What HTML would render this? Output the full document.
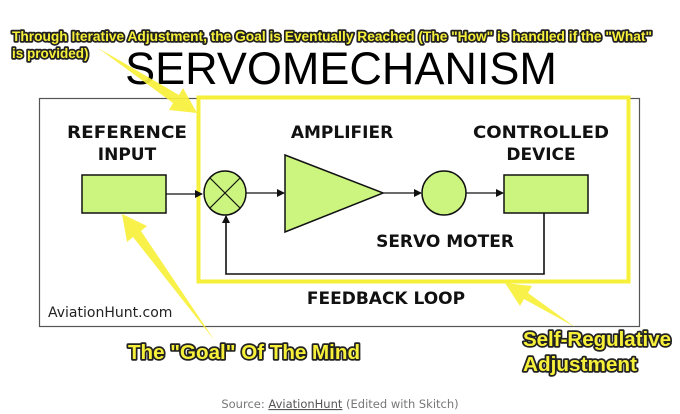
<!DOCTYPE html>
<html><head><meta charset="utf-8"><style>
html,body{margin:0;padding:0;background:#fff;}
svg{display:block;}
.b{font-family:"DejaVu Sans","Liberation Sans",sans-serif;font-weight:bold;fill:#111;}
.c{font-family:"Liberation Sans Narrow","Liberation Sans",sans-serif;font-weight:bold;fill:#f7f03a;stroke:#222;stroke-width:3.4px;paint-order:stroke;stroke-linejoin:round;}
</style></head><body>
<svg width="680" height="414" viewBox="0 0 680 414" xmlns="http://www.w3.org/2000/svg">
<defs><marker id="ah" markerWidth="8" markerHeight="8" refX="7" refY="4" orient="auto" markerUnits="userSpaceOnUse"><path d="M0,0 L8,4 L0,8 z" fill="#111"/></marker></defs>
<text x="341" y="84" text-anchor="middle" font-family="Liberation Sans,sans-serif" font-size="45" fill="#000">SERVOMECHANISM</text>
<rect x="39.5" y="98.5" width="600" height="228" fill="none" stroke="#555" stroke-width="1.2"/>
<rect x="198.5" y="97.5" width="430" height="184" fill="none" stroke="#f7f03a" stroke-width="4"/>
<text class="b" font-size="17" text-anchor="middle" x="127" y="138" textLength="120" lengthAdjust="spacingAndGlyphs">REFERENCE</text>
<text class="b" font-size="17" text-anchor="middle" x="127" y="160">INPUT</text>
<text class="b" font-size="17" text-anchor="middle" x="342" y="138">AMPLIFIER</text>
<text class="b" font-size="17" text-anchor="middle" x="541" y="138" textLength="136" lengthAdjust="spacingAndGlyphs">CONTROLLED</text>
<text class="b" font-size="17" text-anchor="middle" x="541" y="160">DEVICE</text>
<text class="b" font-size="17" text-anchor="middle" x="445" y="247">SERVO MOTER</text>
<text class="b" font-size="17" text-anchor="middle" x="386" y="304">FEEDBACK LOOP</text>
<text x="48" y="317" font-family="DejaVu Sans,sans-serif" font-size="14" fill="#222">AviationHunt.com</text>
<rect x="82" y="175" width="84" height="38" fill="#ccf580" stroke="#111" stroke-width="1.5"/>
<rect x="504" y="175" width="84" height="38" fill="#ccf580" stroke="#111" stroke-width="1.5"/>
<line x1="166" y1="194" x2="202" y2="194" stroke="#111" stroke-width="1.3" marker-end="url(#ah)"/>
<ellipse cx="225" cy="193" rx="21" ry="22" fill="#ccf580" stroke="#111" stroke-width="1.5"/>
<line x1="210" y1="178" x2="240" y2="208" stroke="#111" stroke-width="1.2"/>
<line x1="240" y1="178" x2="210" y2="208" stroke="#111" stroke-width="1.2"/>
<line x1="246" y1="193" x2="284" y2="193" stroke="#111" stroke-width="1.3" marker-end="url(#ah)"/>
<polygon points="285,155 383,193 285,232" fill="#ccf580" stroke="#111" stroke-width="1.5"/>
<line x1="383" y1="193" x2="421" y2="193" stroke="#111" stroke-width="1.3" marker-end="url(#ah)"/>
<circle cx="444" cy="193" r="22" fill="#ccf580" stroke="#111" stroke-width="1.5"/>
<line x1="466" y1="193" x2="503" y2="193" stroke="#111" stroke-width="1.3" marker-end="url(#ah)"/>
<polyline points="544,213 544,274 226,274 226,216" fill="none" stroke="#111" stroke-width="1.6" marker-end="url(#ah)"/>
<!-- yellow callout arrows -->
<polygon points="98,48 179,95 183,88 197,113 169,110 173,103" fill="#f7f03a" opacity="0.92"/>
<polygon points="215,341 141,231 147,226 122,214 127,242 133,237" fill="#f7f03a" opacity="0.92"/>
<polygon points="575,327 528,293 532,286 505,283 520,306 524,299" fill="#f7f03a" opacity="0.92"/>
<text class="c" font-size="13.5" x="12" y="41" textLength="640" lengthAdjust="spacingAndGlyphs">Through Iterative Adjustment, the Goal is Eventually Reached (The "How" is handled if the  "What"</text>
<text class="c" font-size="13.5" x="12" y="58">is provided)</text>
<text class="c" font-size="20" x="128" y="359" textLength="232" lengthAdjust="spacingAndGlyphs">The "Goal" Of The Mind</text>
<text class="c" font-size="20" x="523" y="346" textLength="148" lengthAdjust="spacingAndGlyphs">Self-Regulative</text>
<text class="c" font-size="20" x="523" y="371" textLength="114" lengthAdjust="spacingAndGlyphs">Adjustment</text>
<text x="340" y="408" text-anchor="middle" font-family="DejaVu Sans,sans-serif" font-size="11.5" fill="#777">Source: <tspan text-decoration="underline" fill="#555">AviationHunt</tspan> (Edited with Skitch)</text>
</svg>
</body></html>
